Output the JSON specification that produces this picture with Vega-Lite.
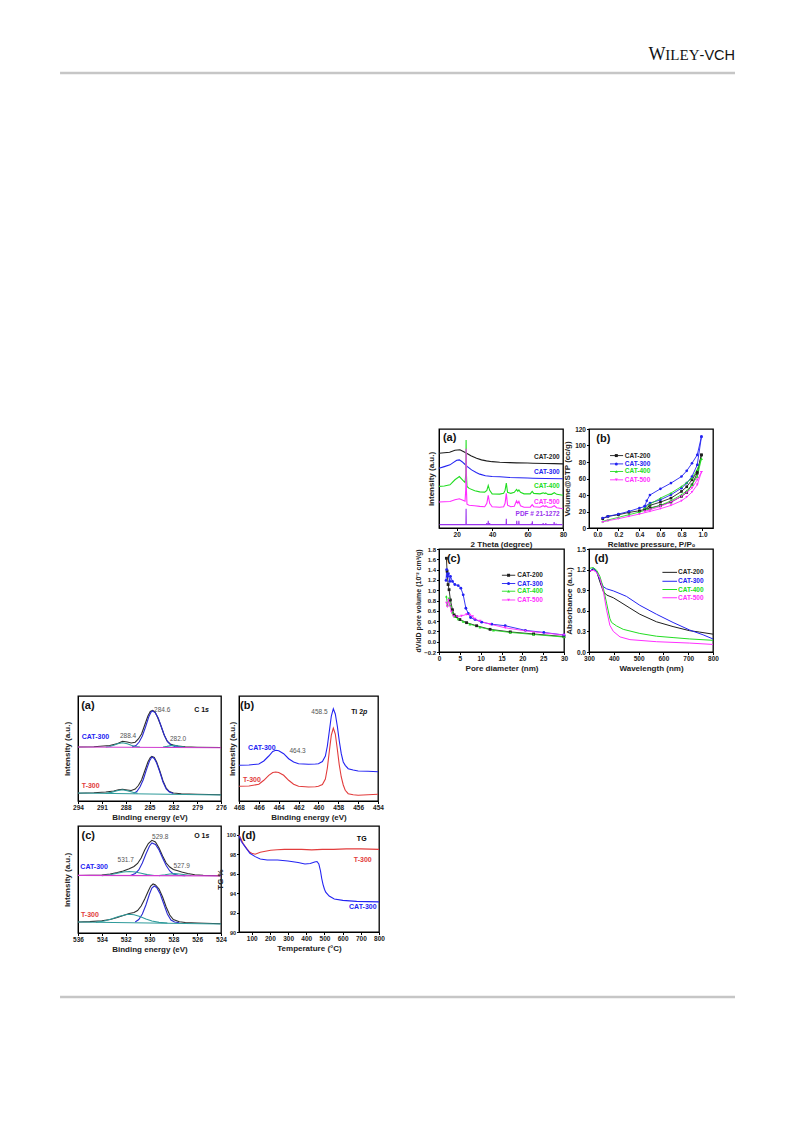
{
  "$schema": "https://vega.github.io/schema/vega-lite/v6.json",
  "padding": 0,
  "background": "white",
  "columns": 5,
  "spacing": 0,
  "bounds": "flush",
  "align": "each",
  "config": {
    "view": {"stroke": null},
    "font": "Liberation Sans",
    "axis": {"grid": false, "labelFont": "Liberation Sans", "labelFontSize": 6.5, "labelFontWeight": "bold", "labelColor": "#222", "titleFont": "Liberation Sans", "titleFontSize": 8, "titleFontWeight": "bold", "titleColor": "#222", "tickSize": 2.5, "tickColor": "#000", "domainColor": "#000", "domainWidth": 1, "labelPadding": 1, "titlePadding": 2, "labelFlush": false, "labelOverlap": false},
    "text": {"font": "Liberation Sans"}
  },
  "datasets": {
    "xrd": [
      {"s":"CAT-200","x":10,"y":75.5},{"s":"CAT-200","x":13,"y":76},{"s":"CAT-200","x":16,"y":76.5},{"s":"CAT-200","x":19,"y":78.5},{"s":"CAT-200","x":21.8,"y":79},{"s":"CAT-200","x":24,"y":77},{"s":"CAT-200","x":25.6,"y":75.5},{"s":"CAT-200","x":28,"y":73},{"s":"CAT-200","x":31.2,"y":70.5},{"s":"CAT-200","x":34,"y":68.8},{"s":"CAT-200","x":36.8,"y":67.8},{"s":"CAT-200","x":40,"y":67},{"s":"CAT-200","x":44.3,"y":66.4},{"s":"CAT-200","x":50,"y":66},{"s":"CAT-200","x":53.7,"y":65.8},{"s":"CAT-200","x":60,"y":65.6},{"s":"CAT-200","x":63,"y":65.4},{"s":"CAT-200","x":70,"y":65.1},{"s":"CAT-200","x":75,"y":65},{"s":"CAT-200","x":80,"y":64.8},
      {"s":"CAT-300","x":10,"y":60.4},{"s":"CAT-300","x":13,"y":62},{"s":"CAT-300","x":16.2,"y":63.8},{"s":"CAT-300","x":18,"y":66},{"s":"CAT-300","x":20,"y":68.5},{"s":"CAT-300","x":21.5,"y":68.8},{"s":"CAT-300","x":23,"y":67},{"s":"CAT-300","x":24.6,"y":64.4},{"s":"CAT-300","x":26,"y":62},{"s":"CAT-300","x":28.4,"y":58.7},{"s":"CAT-300","x":31,"y":56},{"s":"CAT-300","x":33,"y":54.4},{"s":"CAT-300","x":36.2,"y":52.7},{"s":"CAT-300","x":40,"y":52},{"s":"CAT-300","x":44.3,"y":51.7},{"s":"CAT-300","x":50,"y":51},{"s":"CAT-300","x":60,"y":50.5},{"s":"CAT-300","x":63,"y":50.3},{"s":"CAT-300","x":70,"y":50},{"s":"CAT-300","x":80,"y":49.7},
      {"s":"CAT-400","x":10,"y":42},{"s":"CAT-400","x":13,"y":42.5},{"s":"CAT-400","x":16.2,"y":43.6},{"s":"CAT-400","x":19,"y":48.7},{"s":"CAT-400","x":21.5,"y":52},{"s":"CAT-400","x":23.5,"y":48},{"s":"CAT-400","x":24.7,"y":46},{"s":"CAT-400","x":25.15,"y":55},{"s":"CAT-400","x":25.3,"y":89},{"s":"CAT-400","x":25.45,"y":55},{"s":"CAT-400","x":25.8,"y":42},{"s":"CAT-400","x":27,"y":40},{"s":"CAT-400","x":30.2,"y":37.6},{"s":"CAT-400","x":33,"y":36.5},{"s":"CAT-400","x":35.8,"y":36.2},{"s":"CAT-400","x":37,"y":38},{"s":"CAT-400","x":37.8,"y":43},{"s":"CAT-400","x":38.6,"y":38},{"s":"CAT-400","x":40,"y":34.5},{"s":"CAT-400","x":44.3,"y":34.2},{"s":"CAT-400","x":46.5,"y":35},{"s":"CAT-400","x":47.3,"y":38},{"s":"CAT-400","x":48,"y":45.3},{"s":"CAT-400","x":48.7,"y":36},{"s":"CAT-400","x":50.5,"y":35},{"s":"CAT-400","x":52.5,"y":36},{"s":"CAT-400","x":53.8,"y":39},{"s":"CAT-400","x":54.5,"y":37},{"s":"CAT-400","x":55.1,"y":38.5},{"s":"CAT-400","x":56,"y":36},{"s":"CAT-400","x":58,"y":34.5},{"s":"CAT-400","x":61.5,"y":34.5},{"s":"CAT-400","x":62.6,"y":37},{"s":"CAT-400","x":63.5,"y":35},{"s":"CAT-400","x":67,"y":34.5},{"s":"CAT-400","x":68.8,"y":35.5},{"s":"CAT-400","x":69.8,"y":34.8},{"s":"CAT-400","x":70.3,"y":35.5},{"s":"CAT-400","x":71.5,"y":34},{"s":"CAT-400","x":73.5,"y":34},{"s":"CAT-400","x":75.1,"y":35.6},{"s":"CAT-400","x":76.5,"y":34},{"s":"CAT-400","x":80,"y":33},
      {"s":"CAT-500","x":10,"y":26.2},{"s":"CAT-500","x":13,"y":26.5},{"s":"CAT-500","x":16.2,"y":26.8},{"s":"CAT-500","x":19,"y":28.5},{"s":"CAT-500","x":21.5,"y":29.5},{"s":"CAT-500","x":23.5,"y":28},{"s":"CAT-500","x":24.7,"y":27},{"s":"CAT-500","x":25.15,"y":40},{"s":"CAT-500","x":25.3,"y":80},{"s":"CAT-500","x":25.45,"y":40},{"s":"CAT-500","x":25.8,"y":24},{"s":"CAT-500","x":27,"y":23},{"s":"CAT-500","x":30,"y":22.5},{"s":"CAT-500","x":33,"y":21.8},{"s":"CAT-500","x":35.8,"y":21.5},{"s":"CAT-500","x":37,"y":25},{"s":"CAT-500","x":37.8,"y":32.9},{"s":"CAT-500","x":38.6,"y":25},{"s":"CAT-500","x":40,"y":21.5},{"s":"CAT-500","x":44.3,"y":21},{"s":"CAT-500","x":46.5,"y":21.5},{"s":"CAT-500","x":47.3,"y":25},{"s":"CAT-500","x":48,"y":35},{"s":"CAT-500","x":48.7,"y":23},{"s":"CAT-500","x":50.5,"y":21.5},{"s":"CAT-500","x":52.5,"y":22},{"s":"CAT-500","x":53.8,"y":27.5},{"s":"CAT-500","x":54.5,"y":25},{"s":"CAT-500","x":55.1,"y":27},{"s":"CAT-500","x":56,"y":22.5},{"s":"CAT-500","x":58,"y":21},{"s":"CAT-500","x":61.5,"y":21},{"s":"CAT-500","x":62.6,"y":23.5},{"s":"CAT-500","x":63.5,"y":21.5},{"s":"CAT-500","x":67,"y":21},{"s":"CAT-500","x":68.8,"y":22.5},{"s":"CAT-500","x":69.8,"y":21.5},{"s":"CAT-500","x":70.3,"y":22.5},{"s":"CAT-500","x":71.5,"y":21},{"s":"CAT-500","x":73.5,"y":21},{"s":"CAT-500","x":75.1,"y":22.5},{"s":"CAT-500","x":76.5,"y":20.5},{"s":"CAT-500","x":80,"y":19.5},
      {"s":"PDF","x":10.3,"y":3.4},{"s":"PDF","x":25.2,"y":3.4},{"s":"PDF","x":25.3,"y":19.5},{"s":"PDF","x":25.4,"y":3.4},{"s":"PDF","x":36.8,"y":3.4},{"s":"PDF","x":36.95,"y":5},{"s":"PDF","x":37.05,"y":3.4},{"s":"PDF","x":37.7,"y":3.4},{"s":"PDF","x":37.8,"y":7.4},{"s":"PDF","x":37.9,"y":3.4},{"s":"PDF","x":38.5,"y":3.4},{"s":"PDF","x":38.6,"y":5},{"s":"PDF","x":38.7,"y":3.4},{"s":"PDF","x":47.9,"y":3.4},{"s":"PDF","x":48,"y":9.4},{"s":"PDF","x":48.1,"y":3.4},{"s":"PDF","x":53.8,"y":3.4},{"s":"PDF","x":53.9,"y":7.4},{"s":"PDF","x":54,"y":3.4},{"s":"PDF","x":55,"y":3.4},{"s":"PDF","x":55.1,"y":7.4},{"s":"PDF","x":55.2,"y":3.4},{"s":"PDF","x":62,"y":3.4},{"s":"PDF","x":62.1,"y":4.5},{"s":"PDF","x":62.2,"y":3.4},{"s":"PDF","x":62.6,"y":3.4},{"s":"PDF","x":62.7,"y":6.7},{"s":"PDF","x":62.8,"y":3.4},{"s":"PDF","x":68.7,"y":3.4},{"s":"PDF","x":68.8,"y":5},{"s":"PDF","x":68.9,"y":3.4},{"s":"PDF","x":70.2,"y":3.4},{"s":"PDF","x":70.3,"y":5},{"s":"PDF","x":70.4,"y":3.4},{"s":"PDF","x":74.9,"y":3.4},{"s":"PDF","x":75,"y":6},{"s":"PDF","x":75.1,"y":3.4},{"s":"PDF","x":76,"y":3.4},{"s":"PDF","x":76.1,"y":4.5},{"s":"PDF","x":76.2,"y":3.4},{"s":"PDF","x":79.7,"y":3.4}
    ],
    "bet": [
      {"s":"CAT-200","b":"a","p":0.05,"v":11.3},{"s":"CAT-200","b":"a","p":0.1,"v":14.1},{"s":"CAT-200","b":"a","p":0.2,"v":16.1},{"s":"CAT-200","b":"a","p":0.3,"v":18.9},{"s":"CAT-200","b":"a","p":0.4,"v":20.9},{"s":"CAT-200","b":"a","p":0.5,"v":24.2},{"s":"CAT-200","b":"a","p":0.6,"v":27.4},{"s":"CAT-200","b":"a","p":0.7,"v":31.4},{"s":"CAT-200","b":"a","p":0.8,"v":38.3},{"s":"CAT-200","b":"a","p":0.85,"v":43},{"s":"CAT-200","b":"a","p":0.9,"v":52.4},{"s":"CAT-200","b":"a","p":0.95,"v":66.4},{"s":"CAT-200","b":"a","p":0.99,"v":88.6},
      {"s":"CAT-200","b":"d","p":0.45,"v":22.5},{"s":"CAT-200","b":"d","p":0.5,"v":27.4},{"s":"CAT-200","b":"d","p":0.6,"v":31.4},{"s":"CAT-200","b":"d","p":0.7,"v":36.2},{"s":"CAT-200","b":"d","p":0.8,"v":44.3},{"s":"CAT-200","b":"d","p":0.85,"v":50},{"s":"CAT-200","b":"d","p":0.9,"v":58.4},{"s":"CAT-200","b":"d","p":0.95,"v":68.5},{"s":"CAT-200","b":"d","p":0.99,"v":88.6},
      {"s":"CAT-300","b":"a","p":0.05,"v":12.1},{"s":"CAT-300","b":"a","p":0.1,"v":14.1},{"s":"CAT-300","b":"a","p":0.2,"v":16.9},{"s":"CAT-300","b":"a","p":0.3,"v":20.1},{"s":"CAT-300","b":"a","p":0.4,"v":24.2},{"s":"CAT-300","b":"a","p":0.45,"v":26},{"s":"CAT-300","b":"a","p":0.5,"v":30.2},{"s":"CAT-300","b":"a","p":0.6,"v":34.2},{"s":"CAT-300","b":"a","p":0.7,"v":40.3},{"s":"CAT-300","b":"a","p":0.8,"v":48.3},{"s":"CAT-300","b":"a","p":0.85,"v":54.4},{"s":"CAT-300","b":"a","p":0.9,"v":62.4},{"s":"CAT-300","b":"a","p":0.95,"v":76.5},{"s":"CAT-300","b":"a","p":0.99,"v":110.7},
      {"s":"CAT-300","b":"d","p":0.45,"v":26.5},{"s":"CAT-300","b":"d","p":0.47,"v":33},{"s":"CAT-300","b":"d","p":0.5,"v":40},{"s":"CAT-300","b":"d","p":0.6,"v":47.5},{"s":"CAT-300","b":"d","p":0.7,"v":54.4},{"s":"CAT-300","b":"d","p":0.8,"v":62.4},{"s":"CAT-300","b":"d","p":0.85,"v":69.3},{"s":"CAT-300","b":"d","p":0.9,"v":78.5},{"s":"CAT-300","b":"d","p":0.95,"v":88.6},{"s":"CAT-300","b":"d","p":0.99,"v":110.7},
      {"s":"CAT-400","b":"a","p":0.05,"v":8.1},{"s":"CAT-400","b":"a","p":0.1,"v":9.7},{"s":"CAT-400","b":"a","p":0.2,"v":12.9},{"s":"CAT-400","b":"a","p":0.3,"v":16.1},{"s":"CAT-400","b":"a","p":0.4,"v":19.3},{"s":"CAT-400","b":"a","p":0.5,"v":23.4},{"s":"CAT-400","b":"a","p":0.6,"v":27.4},{"s":"CAT-400","b":"a","p":0.7,"v":33},{"s":"CAT-400","b":"a","p":0.8,"v":40.3},{"s":"CAT-400","b":"a","p":0.85,"v":45},{"s":"CAT-400","b":"a","p":0.9,"v":52.4},{"s":"CAT-400","b":"a","p":0.95,"v":62.4},{"s":"CAT-400","b":"a","p":0.99,"v":84},
      {"s":"CAT-400","b":"d","p":0.45,"v":24.2},{"s":"CAT-400","b":"d","p":0.5,"v":29},{"s":"CAT-400","b":"d","p":0.6,"v":36.2},{"s":"CAT-400","b":"d","p":0.7,"v":42.3},{"s":"CAT-400","b":"d","p":0.8,"v":50.3},{"s":"CAT-400","b":"d","p":0.85,"v":55},{"s":"CAT-400","b":"d","p":0.9,"v":60.4},{"s":"CAT-400","b":"d","p":0.95,"v":70.5},{"s":"CAT-400","b":"d","p":0.99,"v":84},
      {"s":"CAT-500","b":"a","p":0.05,"v":7.2},{"s":"CAT-500","b":"a","p":0.1,"v":8.9},{"s":"CAT-500","b":"a","p":0.2,"v":11.3},{"s":"CAT-500","b":"a","p":0.3,"v":14.1},{"s":"CAT-500","b":"a","p":0.4,"v":16.9},{"s":"CAT-500","b":"a","p":0.5,"v":20.1},{"s":"CAT-500","b":"a","p":0.6,"v":23.4},{"s":"CAT-500","b":"a","p":0.7,"v":27.4},{"s":"CAT-500","b":"a","p":0.8,"v":33},{"s":"CAT-500","b":"a","p":0.85,"v":37.5},{"s":"CAT-500","b":"a","p":0.9,"v":43.5},{"s":"CAT-500","b":"a","p":0.95,"v":52.4},{"s":"CAT-500","b":"a","p":0.99,"v":67.7},
      {"s":"CAT-500","b":"d","p":0.45,"v":20.1},{"s":"CAT-500","b":"d","p":0.5,"v":22.1},{"s":"CAT-500","b":"d","p":0.6,"v":26.2},{"s":"CAT-500","b":"d","p":0.7,"v":31.4},{"s":"CAT-500","b":"d","p":0.8,"v":38.3},{"s":"CAT-500","b":"d","p":0.85,"v":43},{"s":"CAT-500","b":"d","p":0.9,"v":48.3},{"s":"CAT-500","b":"d","p":0.95,"v":58.4},{"s":"CAT-500","b":"d","p":0.99,"v":67.7}
    ],
    "pore": [
      {"s":"CAT-200","d":1.77,"v":1.62},{"s":"CAT-200","d":1.94,"v":1.37},{"s":"CAT-200","d":2.18,"v":1.11},{"s":"CAT-200","d":2.42,"v":1.01},{"s":"CAT-200","d":2.74,"v":0.81},{"s":"CAT-200","d":3.23,"v":0.62},{"s":"CAT-200","d":3.63,"v":0.52},{"s":"CAT-200","d":4.19,"v":0.49},{"s":"CAT-200","d":5.0,"v":0.43},{"s":"CAT-200","d":6.61,"v":0.37},{"s":"CAT-200","d":9.03,"v":0.31},{"s":"CAT-200","d":12.26,"v":0.24},{"s":"CAT-200","d":17.1,"v":0.19},{"s":"CAT-200","d":22.7,"v":0.15},{"s":"CAT-200","d":30,"v":0.1},
      {"s":"CAT-300","d":1.69,"v":1.19},{"s":"CAT-300","d":1.85,"v":1.4},{"s":"CAT-300","d":2.02,"v":1.27},{"s":"CAT-300","d":2.26,"v":1.32},{"s":"CAT-300","d":2.58,"v":1.17},{"s":"CAT-300","d":2.74,"v":1.27},{"s":"CAT-300","d":3.23,"v":1.17},{"s":"CAT-300","d":3.79,"v":1.11},{"s":"CAT-300","d":4.6,"v":1.09},{"s":"CAT-300","d":5.24,"v":1.04},{"s":"CAT-300","d":5.81,"v":0.91},{"s":"CAT-300","d":6.45,"v":0.65},{"s":"CAT-300","d":7.02,"v":0.55},{"s":"CAT-300","d":7.58,"v":0.47},{"s":"CAT-300","d":8.63,"v":0.43},{"s":"CAT-300","d":10.24,"v":0.38},{"s":"CAT-300","d":12.66,"v":0.34},{"s":"CAT-300","d":15.89,"v":0.31},{"s":"CAT-300","d":20.73,"v":0.22},{"s":"CAT-300","d":25.16,"v":0.18},{"s":"CAT-300","d":30,"v":0.13},
      {"s":"CAT-400","d":1.77,"v":0.88},{"s":"CAT-400","d":2.02,"v":0.71},{"s":"CAT-400","d":2.42,"v":0.85},{"s":"CAT-400","d":2.74,"v":0.71},{"s":"CAT-400","d":3.23,"v":0.57},{"s":"CAT-400","d":3.79,"v":0.49},{"s":"CAT-400","d":4.6,"v":0.44},{"s":"CAT-400","d":5.81,"v":0.39},{"s":"CAT-400","d":7.42,"v":0.34},{"s":"CAT-400","d":9.84,"v":0.28},{"s":"CAT-400","d":13.07,"v":0.22},{"s":"CAT-400","d":17.1,"v":0.18},{"s":"CAT-400","d":22.7,"v":0.14},{"s":"CAT-400","d":30,"v":0.09},
      {"s":"CAT-500","d":1.77,"v":0.75},{"s":"CAT-500","d":2.02,"v":0.68},{"s":"CAT-500","d":2.26,"v":0.81},{"s":"CAT-500","d":2.58,"v":0.71},{"s":"CAT-500","d":2.98,"v":0.58},{"s":"CAT-500","d":3.55,"v":0.49},{"s":"CAT-500","d":4.35,"v":0.49},{"s":"CAT-500","d":5.4,"v":0.5},{"s":"CAT-500","d":6.61,"v":0.53},{"s":"CAT-500","d":7.42,"v":0.52},{"s":"CAT-500","d":8.07,"v":0.49},{"s":"CAT-500","d":8.63,"v":0.44},{"s":"CAT-500","d":9.84,"v":0.4},{"s":"CAT-500","d":12.26,"v":0.34},{"s":"CAT-500","d":15.89,"v":0.27},{"s":"CAT-500","d":20.73,"v":0.21},{"s":"CAT-500","d":30,"v":0.13}
    ],
    "abs": [
      {"s":"CAT-200","w":304,"a":1.17},{"s":"CAT-200","w":317,"a":1.21},{"s":"CAT-200","w":331,"a":1.17},{"s":"CAT-200","w":344,"a":1.02},{"s":"CAT-200","w":358,"a":0.88},{"s":"CAT-200","w":371,"a":0.83},{"s":"CAT-200","w":398,"a":0.79},{"s":"CAT-200","w":425,"a":0.73},{"s":"CAT-200","w":465,"a":0.64},{"s":"CAT-200","w":505,"a":0.55},{"s":"CAT-200","w":572,"a":0.44},{"s":"CAT-200","w":639,"a":0.37},{"s":"CAT-200","w":706,"a":0.31},{"s":"CAT-200","w":746,"a":0.29},{"s":"CAT-200","w":800,"a":0.26},
      {"s":"CAT-300","w":304,"a":1.18},{"s":"CAT-300","w":317,"a":1.22},{"s":"CAT-300","w":331,"a":1.17},{"s":"CAT-300","w":344,"a":1.05},{"s":"CAT-300","w":358,"a":0.95},{"s":"CAT-300","w":371,"a":0.92},{"s":"CAT-300","w":398,"a":0.89},{"s":"CAT-300","w":425,"a":0.85},{"s":"CAT-300","w":451,"a":0.81},{"s":"CAT-300","w":505,"a":0.68},{"s":"CAT-300","w":572,"a":0.55},{"s":"CAT-300","w":639,"a":0.43},{"s":"CAT-300","w":706,"a":0.32},{"s":"CAT-300","w":760,"a":0.25},{"s":"CAT-300","w":800,"a":0.19},
      {"s":"CAT-400","w":304,"a":1.22},{"s":"CAT-400","w":317,"a":1.23},{"s":"CAT-400","w":331,"a":1.19},{"s":"CAT-400","w":344,"a":1.1},{"s":"CAT-400","w":358,"a":0.93},{"s":"CAT-400","w":371,"a":0.71},{"s":"CAT-400","w":384,"a":0.49},{"s":"CAT-400","w":391,"a":0.43},{"s":"CAT-400","w":411,"a":0.38},{"s":"CAT-400","w":438,"a":0.33},{"s":"CAT-400","w":505,"a":0.27},{"s":"CAT-400","w":572,"a":0.23},{"s":"CAT-400","w":639,"a":0.21},{"s":"CAT-400","w":706,"a":0.19},{"s":"CAT-400","w":800,"a":0.17},
      {"s":"CAT-500","w":304,"a":1.18},{"s":"CAT-500","w":317,"a":1.19},{"s":"CAT-500","w":331,"a":1.16},{"s":"CAT-500","w":344,"a":1.07},{"s":"CAT-500","w":358,"a":0.88},{"s":"CAT-500","w":371,"a":0.61},{"s":"CAT-500","w":384,"a":0.39},{"s":"CAT-500","w":398,"a":0.3},{"s":"CAT-500","w":425,"a":0.22},{"s":"CAT-500","w":465,"a":0.18},{"s":"CAT-500","w":572,"a":0.15},{"s":"CAT-500","w":706,"a":0.13},{"s":"CAT-500","w":800,"a":0.11}
    ],
    "c1s": [
      {"g":"ce","s":"env","x":294,"y":54},{"g":"ce","s":"env","x":292,"y":54.3},{"g":"ce","s":"env","x":290,"y":55.5},{"g":"ce","s":"env","x":289,"y":57.5},{"g":"ce","s":"env","x":288.4,"y":59.7},{"g":"ce","s":"env","x":287.8,"y":59},{"g":"ce","s":"env","x":287.3,"y":58},{"g":"ce","s":"env","x":286.8,"y":58.8},{"g":"ce","s":"env","x":286.4,"y":62},{"g":"ce","s":"env","x":286,"y":67},{"g":"ce","s":"env","x":285.6,"y":76},{"g":"ce","s":"env","x":285.2,"y":85},{"g":"ce","s":"env","x":284.9,"y":89.5},{"g":"ce","s":"env","x":284.6,"y":90.7},{"g":"ce","s":"env","x":284.3,"y":89},{"g":"ce","s":"env","x":284,"y":84},{"g":"ce","s":"env","x":283.6,"y":76},{"g":"ce","s":"env","x":283.2,"y":67},{"g":"ce","s":"env","x":282.8,"y":60},{"g":"ce","s":"env","x":282.4,"y":57},{"g":"ce","s":"env","x":282,"y":56},{"g":"ce","s":"env","x":281.4,"y":55},{"g":"ce","s":"env","x":280.5,"y":54.2},{"g":"ce","s":"env","x":279,"y":53.8},{"g":"ce","s":"env","x":276,"y":53.5},
      {"g":"cf","s":"fit","x":287.2,"y":54},{"g":"cf","s":"fit","x":286.7,"y":55.5},{"g":"cf","s":"fit","x":286.3,"y":59},{"g":"cf","s":"fit","x":285.9,"y":65},{"g":"cf","s":"fit","x":285.5,"y":74},{"g":"cf","s":"fit","x":285.1,"y":84},{"g":"cf","s":"fit","x":284.8,"y":89},{"g":"cf","s":"fit","x":284.6,"y":90},{"g":"cf","s":"fit","x":284.3,"y":88.5},{"g":"cf","s":"fit","x":283.9,"y":83},{"g":"cf","s":"fit","x":283.5,"y":74},{"g":"cf","s":"fit","x":283.1,"y":65},{"g":"cf","s":"fit","x":282.7,"y":59},{"g":"cf","s":"fit","x":282.3,"y":56},{"g":"cf","s":"fit","x":281.8,"y":54.5},{"g":"cf","s":"fit","x":281,"y":54},
      {"g":"cc1","s":"comp","x":290.5,"y":54},{"g":"cc1","s":"comp","x":290,"y":54.5},{"g":"cc1","s":"comp","x":289.5,"y":55.7},{"g":"cc1","s":"comp","x":289,"y":57.3},{"g":"cc1","s":"comp","x":288.4,"y":58.3},{"g":"cc1","s":"comp","x":287.8,"y":57.3},{"g":"cc1","s":"comp","x":287.3,"y":55.7},{"g":"cc1","s":"comp","x":286.8,"y":54.5},{"g":"cc1","s":"comp","x":286.2,"y":54},
      {"g":"cc2","s":"comp","x":283.3,"y":54},{"g":"cc2","s":"comp","x":282.8,"y":54.6},{"g":"cc2","s":"comp","x":282.3,"y":55.4},{"g":"cc2","s":"comp","x":282,"y":55.6},{"g":"cc2","s":"comp","x":281.6,"y":55.3},{"g":"cc2","s":"comp","x":281.1,"y":54.5},{"g":"cc2","s":"comp","x":280.6,"y":54},
      {"g":"cb","s":"base","x":294,"y":54},{"g":"cb","s":"base","x":276,"y":53.3},
      {"g":"te","s":"env","x":294,"y":7.8},{"g":"te","s":"env","x":292,"y":8.3},{"g":"te","s":"env","x":290.5,"y":9},{"g":"te","s":"env","x":289.5,"y":10},{"g":"te","s":"env","x":288.9,"y":11.3},{"g":"te","s":"env","x":288.4,"y":11.7},{"g":"te","s":"env","x":287.8,"y":11},{"g":"te","s":"env","x":287.3,"y":10.5},{"g":"te","s":"env","x":286.8,"y":12},{"g":"te","s":"env","x":286.4,"y":15.5},{"g":"te","s":"env","x":286,"y":21},{"g":"te","s":"env","x":285.6,"y":30},{"g":"te","s":"env","x":285.2,"y":39},{"g":"te","s":"env","x":284.9,"y":43.5},{"g":"te","s":"env","x":284.7,"y":44.7},{"g":"te","s":"env","x":284.4,"y":43.5},{"g":"te","s":"env","x":284.1,"y":39},{"g":"te","s":"env","x":283.7,"y":30},{"g":"te","s":"env","x":283.3,"y":20},{"g":"te","s":"env","x":282.9,"y":13},{"g":"te","s":"env","x":282.5,"y":9.5},{"g":"te","s":"env","x":282,"y":8},{"g":"te","s":"env","x":281,"y":7.2},{"g":"te","s":"env","x":279,"y":6.8},{"g":"te","s":"env","x":276,"y":6.3},
      {"g":"tf","s":"fit","x":287,"y":7.6},{"g":"tf","s":"fit","x":286.6,"y":9.5},{"g":"tf","s":"fit","x":286.2,"y":14},{"g":"tf","s":"fit","x":285.8,"y":21},{"g":"tf","s":"fit","x":285.4,"y":31},{"g":"tf","s":"fit","x":285,"y":40},{"g":"tf","s":"fit","x":284.7,"y":44},{"g":"tf","s":"fit","x":284.4,"y":42.5},{"g":"tf","s":"fit","x":284.1,"y":38},{"g":"tf","s":"fit","x":283.7,"y":29},{"g":"tf","s":"fit","x":283.3,"y":19},{"g":"tf","s":"fit","x":282.9,"y":12},{"g":"tf","s":"fit","x":282.5,"y":9},{"g":"tf","s":"fit","x":282,"y":7.6},
      {"g":"tc1","s":"comp","x":290.5,"y":7.8},{"g":"tc1","s":"comp","x":289.8,"y":8.6},{"g":"tc1","s":"comp","x":289.1,"y":10.3},{"g":"tc1","s":"comp","x":288.4,"y":11.3},{"g":"tc1","s":"comp","x":287.8,"y":10.3},{"g":"tc1","s":"comp","x":287.1,"y":8.7},{"g":"tc1","s":"comp","x":286.5,"y":7.8},
      {"g":"tb","s":"comp","x":294,"y":8},{"g":"tb","s":"comp","x":276,"y":6}
    ],
    "ti": [
      {"s":"CAT-300","x":468,"y":35.7},{"s":"CAT-300","x":467,"y":36},{"s":"CAT-300","x":466,"y":37},{"s":"CAT-300","x":465.5,"y":40},{"s":"CAT-300","x":465,"y":45},{"s":"CAT-300","x":464.6,"y":49.5},{"s":"CAT-300","x":464.3,"y":50.7},{"s":"CAT-300","x":464,"y":50.2},{"s":"CAT-300","x":463.5,"y":47.3},{"s":"CAT-300","x":463,"y":42.3},{"s":"CAT-300","x":462.5,"y":39},{"s":"CAT-300","x":462,"y":37.3},{"s":"CAT-300","x":461,"y":36.7},{"s":"CAT-300","x":460.3,"y":37},{"s":"CAT-300","x":460,"y":37.3},{"s":"CAT-300","x":459.6,"y":39.5},{"s":"CAT-300","x":459.3,"y":45},{"s":"CAT-300","x":459.1,"y":55},{"s":"CAT-300","x":458.9,"y":70},{"s":"CAT-300","x":458.7,"y":85},{"s":"CAT-300","x":458.5,"y":92.3},{"s":"CAT-300","x":458.3,"y":87},{"s":"CAT-300","x":458.1,"y":75},{"s":"CAT-300","x":457.9,"y":60},{"s":"CAT-300","x":457.7,"y":47.3},{"s":"CAT-300","x":457.5,"y":39},{"s":"CAT-300","x":457.3,"y":35.7},{"s":"CAT-300","x":457,"y":32.3},{"s":"CAT-300","x":456.5,"y":31},{"s":"CAT-300","x":456,"y":30},{"s":"CAT-300","x":455,"y":29.7},{"s":"CAT-300","x":454,"y":29.3},
      {"s":"T-300","x":468,"y":14.7},{"s":"T-300","x":467,"y":15},{"s":"T-300","x":466,"y":16.7},{"s":"T-300","x":465.5,"y":20.7},{"s":"T-300","x":465,"y":25.7},{"s":"T-300","x":464.6,"y":28.5},{"s":"T-300","x":464.3,"y":29},{"s":"T-300","x":464,"y":28.5},{"s":"T-300","x":463.5,"y":25.7},{"s":"T-300","x":463,"y":20.7},{"s":"T-300","x":462.5,"y":16.7},{"s":"T-300","x":462,"y":14.7},{"s":"T-300","x":461,"y":14},{"s":"T-300","x":460.3,"y":14.3},{"s":"T-300","x":460,"y":14.7},{"s":"T-300","x":459.6,"y":16.5},{"s":"T-300","x":459.3,"y":22},{"s":"T-300","x":459.1,"y":33},{"s":"T-300","x":458.9,"y":50},{"s":"T-300","x":458.7,"y":66},{"s":"T-300","x":458.5,"y":73},{"s":"T-300","x":458.3,"y":67},{"s":"T-300","x":458.1,"y":52},{"s":"T-300","x":457.9,"y":36},{"s":"T-300","x":457.7,"y":24},{"s":"T-300","x":457.5,"y":16},{"s":"T-300","x":457.3,"y":10.7},{"s":"T-300","x":457,"y":7.3},{"s":"T-300","x":456.5,"y":6.2},{"s":"T-300","x":456,"y":5.7},{"s":"T-300","x":455,"y":6.3},{"s":"T-300","x":454,"y":6.7}
    ],
    "o1s": [
      {"g":"ce","s":"env","x":536,"y":57.5},{"g":"ce","s":"env","x":535,"y":57.7},{"g":"ce","s":"env","x":534,"y":58},{"g":"ce","s":"env","x":533.3,"y":59},{"g":"ce","s":"env","x":532.7,"y":60.5},{"g":"ce","s":"env","x":532.2,"y":62},{"g":"ce","s":"env","x":531.7,"y":64.3},{"g":"ce","s":"env","x":531.3,"y":66.5},{"g":"ce","s":"env","x":531,"y":69.5},{"g":"ce","s":"env","x":530.7,"y":75},{"g":"ce","s":"env","x":530.4,"y":83},{"g":"ce","s":"env","x":530.1,"y":89.5},{"g":"ce","s":"env","x":529.8,"y":92.7},{"g":"ce","s":"env","x":529.5,"y":91},{"g":"ce","s":"env","x":529.2,"y":85},{"g":"ce","s":"env","x":528.9,"y":77},{"g":"ce","s":"env","x":528.6,"y":70},{"g":"ce","s":"env","x":528.3,"y":66},{"g":"ce","s":"env","x":528,"y":63.5},{"g":"ce","s":"env","x":527.7,"y":62.5},{"g":"ce","s":"env","x":527.3,"y":61},{"g":"ce","s":"env","x":526.8,"y":59.5},{"g":"ce","s":"env","x":526.2,"y":58.2},{"g":"ce","s":"env","x":525.5,"y":57.6},{"g":"ce","s":"env","x":524,"y":57.3},
      {"g":"cf","s":"fit","x":531.6,"y":57.6},{"g":"cf","s":"fit","x":531.2,"y":59.5},{"g":"cf","s":"fit","x":530.9,"y":63},{"g":"cf","s":"fit","x":530.6,"y":70},{"g":"cf","s":"fit","x":530.3,"y":79},{"g":"cf","s":"fit","x":530,"y":87},{"g":"cf","s":"fit","x":529.8,"y":90},{"g":"cf","s":"fit","x":529.5,"y":88.5},{"g":"cf","s":"fit","x":529.2,"y":83},{"g":"cf","s":"fit","x":528.9,"y":75},{"g":"cf","s":"fit","x":528.6,"y":67.5},{"g":"cf","s":"fit","x":528.3,"y":62},{"g":"cf","s":"fit","x":528,"y":59},{"g":"cf","s":"fit","x":527.6,"y":57.8},{"g":"cf","s":"fit","x":527,"y":57.3},
      {"g":"cc1","s":"comp","x":534,"y":57.4},{"g":"cc1","s":"comp","x":533.3,"y":58.3},{"g":"cc1","s":"comp","x":532.7,"y":59.8},{"g":"cc1","s":"comp","x":532.2,"y":61},{"g":"cc1","s":"comp","x":531.7,"y":61.5},{"g":"cc1","s":"comp","x":531.2,"y":61},{"g":"cc1","s":"comp","x":530.7,"y":59.8},{"g":"cc1","s":"comp","x":530.2,"y":58.4},{"g":"cc1","s":"comp","x":529.6,"y":57.5},
      {"g":"cc2","s":"comp","x":529.2,"y":57.4},{"g":"cc2","s":"comp","x":528.7,"y":58.2},{"g":"cc2","s":"comp","x":528.3,"y":59},{"g":"cc2","s":"comp","x":527.9,"y":59.4},{"g":"cc2","s":"comp","x":527.5,"y":59},{"g":"cc2","s":"comp","x":527,"y":58.2},{"g":"cc2","s":"comp","x":526.5,"y":57.5},
      {"g":"cb","s":"base","x":536,"y":57.6},{"g":"cb","s":"base","x":524,"y":57.1},
      {"g":"te","s":"env","x":536,"y":11},{"g":"te","s":"env","x":535,"y":11.4},{"g":"te","s":"env","x":534,"y":12.2},{"g":"te","s":"env","x":533.3,"y":13.5},{"g":"te","s":"env","x":532.7,"y":15.5},{"g":"te","s":"env","x":532.2,"y":17.5},{"g":"te","s":"env","x":531.7,"y":19.5},{"g":"te","s":"env","x":531.3,"y":20.5},{"g":"te","s":"env","x":531,"y":22.5},{"g":"te","s":"env","x":530.7,"y":27},{"g":"te","s":"env","x":530.4,"y":34},{"g":"te","s":"env","x":530.1,"y":42},{"g":"te","s":"env","x":529.9,"y":47},{"g":"te","s":"env","x":529.7,"y":49},{"g":"te","s":"env","x":529.5,"y":48},{"g":"te","s":"env","x":529.2,"y":44},{"g":"te","s":"env","x":528.9,"y":36},{"g":"te","s":"env","x":528.6,"y":26},{"g":"te","s":"env","x":528.3,"y":18},{"g":"te","s":"env","x":528,"y":13.5},{"g":"te","s":"env","x":527.5,"y":11.3},{"g":"te","s":"env","x":527,"y":10.5},{"g":"te","s":"env","x":526,"y":10},{"g":"te","s":"env","x":524,"y":9.3},
      {"g":"tf","s":"fit","x":531.2,"y":11},{"g":"tf","s":"fit","x":530.9,"y":13.5},{"g":"tf","s":"fit","x":530.6,"y":19},{"g":"tf","s":"fit","x":530.3,"y":28},{"g":"tf","s":"fit","x":530,"y":39},{"g":"tf","s":"fit","x":529.8,"y":45},{"g":"tf","s":"fit","x":529.6,"y":47},{"g":"tf","s":"fit","x":529.4,"y":45.5},{"g":"tf","s":"fit","x":529.1,"y":39},{"g":"tf","s":"fit","x":528.8,"y":29},{"g":"tf","s":"fit","x":528.5,"y":19},{"g":"tf","s":"fit","x":528.2,"y":13},{"g":"tf","s":"fit","x":527.9,"y":11},{"g":"tf","s":"fit","x":527.5,"y":10.3},
      {"g":"tc1","s":"comp","x":534.5,"y":10.8},{"g":"tc1","s":"comp","x":533.8,"y":12},{"g":"tc1","s":"comp","x":533.2,"y":14},{"g":"tc1","s":"comp","x":532.6,"y":16.5},{"g":"tc1","s":"comp","x":532,"y":18.3},{"g":"tc1","s":"comp","x":531.7,"y":18.7},{"g":"tc1","s":"comp","x":531.3,"y":18.2},{"g":"tc1","s":"comp","x":530.8,"y":16.5},{"g":"tc1","s":"comp","x":530.3,"y":14},{"g":"tc1","s":"comp","x":529.8,"y":12},{"g":"tc1","s":"comp","x":529.2,"y":10.6},{"g":"tc1","s":"comp","x":528.5,"y":10},
      {"g":"tb","s":"comp","x":536,"y":11},{"g":"tb","s":"comp","x":524,"y":9}
    ],
    "tg": [
      {"s":"T-300","t":30,"y":100},{"s":"T-300","t":52.7,"y":99.1},{"s":"T-300","t":71.6,"y":98.6},{"s":"T-300","t":90,"y":98.2},{"s":"T-300","t":100,"y":98.1},{"s":"T-300","t":119,"y":98},{"s":"T-300","t":147,"y":98.2},{"s":"T-300","t":175,"y":98.3},{"s":"T-300","t":204,"y":98.4},{"s":"T-300","t":240,"y":98.45},{"s":"T-300","t":280,"y":98.5},{"s":"T-300","t":330,"y":98.5},{"s":"T-300","t":374,"y":98.5},{"s":"T-300","t":430,"y":98.45},{"s":"T-300","t":488,"y":98.5},{"s":"T-300","t":550,"y":98.5},{"s":"T-300","t":620,"y":98.55},{"s":"T-300","t":700,"y":98.55},{"s":"T-300","t":800,"y":98.5},
      {"s":"CAT-300","t":30,"y":99.9},{"s":"CAT-300","t":43,"y":99.3},{"s":"CAT-300","t":62,"y":98.8},{"s":"CAT-300","t":90,"y":98.1},{"s":"CAT-300","t":119,"y":97.75},{"s":"CAT-300","t":147,"y":97.5},{"s":"CAT-300","t":185,"y":97.4},{"s":"CAT-300","t":242,"y":97.4},{"s":"CAT-300","t":299,"y":97.3},{"s":"CAT-300","t":355,"y":97.15},{"s":"CAT-300","t":393,"y":97},{"s":"CAT-300","t":422,"y":97.05},{"s":"CAT-300","t":446,"y":97.2},{"s":"CAT-300","t":459,"y":97.25},{"s":"CAT-300","t":469,"y":97},{"s":"CAT-300","t":478,"y":96.3},{"s":"CAT-300","t":485,"y":95.5},{"s":"CAT-300","t":492,"y":94.9},{"s":"CAT-300","t":500,"y":94.4},{"s":"CAT-300","t":507,"y":94.1},{"s":"CAT-300","t":526,"y":93.7},{"s":"CAT-300","t":554,"y":93.4},{"s":"CAT-300","t":601,"y":93.25},{"s":"CAT-300","t":677,"y":93.15},{"s":"CAT-300","t":800,"y":93.1}
    ]
  },
  "concat": [
    {"width": 78, "height": 45, "data": {"values": []}, "mark": "point"},
    {"width": 161, "height": 1, "data": {"values": []}, "mark": "point"},
    {"width": 200, "height": 1, "data": {"values": []}, "mark": "point"},
    {"width": 150, "height": 1, "data": {"values": []}, "mark": "point"},
    {"width": 1, "height": 1, "data": {"values": []}, "mark": "point"},

    {"width": 1, "height": 28, "data": {"values": []}, "mark": "point"},
    {"width": 1, "height": 1, "data": {"values": []}, "mark": "point"},
    {"width": 1, "height": 1, "data": {"values": []}, "mark": "point"},
    {"width": 1, "height": 1, "data": {"values": []}, "mark": "point"},
    {
      "width": 146, "height": 28,
      "layer": [
        {"data": {"values": [{"t": "page rule"}]},
         "mark": {"type": "rule", "color": "#c6c6c6", "strokeWidth": 2.4},
         "encoding": {
           "x": {"datum": -3.623, "type": "quantitative", "scale": {"domain": [0, 1]}, "axis": null},
           "x2": {"datum": 1},
           "y": {"datum": 0, "type": "quantitative", "scale": {"domain": [0, 1]}, "axis": null}}},
        {"data": {"values": [{"t": "-VCH"}]},
         "mark": {"type": "text", "align": "right", "baseline": "alphabetic", "font": "Liberation Sans", "fontSize": 14.5, "color": "#111"},
         "encoding": {"x": {"datum": 1, "type": "quantitative"}, "y": {"datum": 0.46, "type": "quantitative"}, "text": {"field": "t"}}},
        {"data": {"values": [{"t": "ILEY"}]},
         "mark": {"type": "text", "align": "right", "baseline": "alphabetic", "font": "Liberation Serif", "fontSize": 15, "dx": -35.5, "color": "#111"},
         "encoding": {"x": {"datum": 1, "type": "quantitative"}, "y": {"datum": 0.46, "type": "quantitative"}, "text": {"field": "t"}}},
        {"data": {"values": [{"t": "W"}]},
         "mark": {"type": "text", "align": "right", "baseline": "alphabetic", "font": "Liberation Serif", "fontSize": 18, "dx": -69.6, "color": "#111"},
         "encoding": {"x": {"datum": 1, "type": "quantitative"}, "y": {"datum": 0.46, "type": "quantitative"}, "text": {"field": "t"}}}
      ]
    },

    {"width": 1, "height": 356, "data": {"values": []}, "mark": "point"},
    {"width": 1, "height": 1, "data": {"values": []}, "mark": "point"},
    {"width": 1, "height": 1, "data": {"values": []}, "mark": "point"},
    {"width": 1, "height": 1, "data": {"values": []}, "mark": "point"},
    {"width": 1, "height": 1, "data": {"values": []}, "mark": "point"},

    {"width": 1, "height": 99, "data": {"values": []}, "mark": "point"},
    {"width": 1, "height": 1, "data": {"values": []}, "mark": "point"},
    {"width": 1, "height": 1, "data": {"values": []}, "mark": "point"},
    {
      "width": 124, "height": 99,
      "view": {"stroke": "#000", "strokeWidth": 1.3},
      "layer": [
        {"data": {"name": "xrd"}, "mark": {"type": "line", "strokeWidth": 1.1},
         "encoding": {
           "x": {"field": "x", "type": "quantitative", "scale": {"domain": [10, 80], "nice": false, "zero": false}, "axis": {"values": [20, 40, 60, 80], "tickCount": 30, "format": "d", "labelOverlap": false, "title": "2 Theta (degree)"}},
           "y": {"field": "y", "type": "quantitative", "scale": {"domain": [0, 100], "nice": false}, "axis": {"labels": false, "ticks": false, "title": "Intensity (a.u.)", "titlePadding": 4}},
           "color": {"field": "s", "type": "nominal", "legend": null, "scale": {"domain": ["CAT-200","CAT-300","CAT-400","CAT-500","PDF","T-300","env","fit","comp","base","num","blk"], "range": ["#1e1e1e","#2323f2","#22dd22","#ff2eff","#9a33ee","#e23c3c","#2e2e2e","#2b2bd4","#2f9b9b","#d03cd0","#505050","#000000"]}}}},
        {"data": {"values": [{"t":"CAT-200","s":"CAT-200","x":78.1,"y":72.1},{"t":"CAT-300","s":"CAT-300","x":78.1,"y":57},{"t":"CAT-400","s":"CAT-400","x":78.1,"y":42},{"t":"CAT-500","s":"CAT-500","x":78.1,"y":26.2},{"t":"PDF # 21-1272","s":"PDF","x":78.1,"y":14.1}]},
         "mark": {"type": "text", "align": "right", "baseline": "middle", "fontSize": 6.5, "fontWeight": "bold"},
         "encoding": {"x": {"field": "x", "type": "quantitative"}, "y": {"field": "y", "type": "quantitative"}, "text": {"field": "t"},
           "color": {"field": "s", "type": "nominal", "legend": null, "scale": {"domain": ["CAT-200","CAT-300","CAT-400","CAT-500","PDF","T-300","env","fit","comp","base","num","blk"], "range": ["#1e1e1e","#2323f2","#22dd22","#ff2eff","#9a33ee","#e23c3c","#2e2e2e","#2b2bd4","#2f9b9b","#d03cd0","#505050","#000000"]}}}},
        {"data": {"values": [{"t": "(a)", "x": 12.2, "y": 91}]},
         "mark": {"type": "text", "align": "left", "baseline": "middle", "fontSize": 11, "fontWeight": "bold", "color": "#111"},
         "encoding": {"x": {"field": "x", "type": "quantitative"}, "y": {"field": "y", "type": "quantitative"}, "text": {"field": "t"}}}
      ]
    },
    {
      "width": 124, "height": 99,
      "view": {"stroke": "#000", "strokeWidth": 1.3},
      "layer": [
        {"data": {"name": "bet"}, "mark": {"type": "line", "strokeWidth": 0.9},
         "encoding": {
           "x": {"field": "p", "type": "quantitative", "scale": {"domain": [-0.08, 1.1], "nice": false, "zero": false}, "axis": {"values": [0, 0.2, 0.4, 0.6, 0.8, 1.0], "tickCount": 30, "format": ".1f", "labelOverlap": false, "title": "Relative pressure, P/P₀"}},
           "y": {"field": "v", "type": "quantitative", "scale": {"domain": [0, 120], "nice": false}, "axis": {"values": [0, 20, 40, 60, 80, 100, 120], "tickCount": 30, "format": "d", "labelOverlap": false, "title": "Volume@STP (cc/g)", "titlePadding": 3}},
           "detail": {"field": "b"},
           "color": {"field": "s", "type": "nominal", "legend": null, "scale": {"domain": ["CAT-200","CAT-300","CAT-400","CAT-500","PDF","T-300","env","fit","comp","base","num","blk"], "range": ["#1e1e1e","#2323f2","#22dd22","#ff2eff","#9a33ee","#e23c3c","#2e2e2e","#2b2bd4","#2f9b9b","#d03cd0","#505050","#000000"]}}}},
        {"data": {"name": "bet"}, "mark": {"type": "point", "filled": true, "size": 7, "opacity": 1},
         "encoding": {"x": {"field": "p", "type": "quantitative"}, "y": {"field": "v", "type": "quantitative"},
           "shape": {"field": "s", "type": "nominal", "legend": null, "scale": {"domain": ["CAT-200","CAT-300","CAT-400","CAT-500"], "range": ["square","circle","triangle-up","triangle-down"]}},
           "color": {"field": "s", "type": "nominal", "legend": null, "scale": {"domain": ["CAT-200","CAT-300","CAT-400","CAT-500","PDF","T-300","env","fit","comp","base","num","blk"], "range": ["#1e1e1e","#2323f2","#22dd22","#ff2eff","#9a33ee","#e23c3c","#2e2e2e","#2b2bd4","#2f9b9b","#d03cd0","#505050","#000000"]}}}},
        {"data": {"values": [{"s":"CAT-200","x1":0.12,"x2":0.245,"xm":0.18,"xt":0.26,"y":87.8},{"s":"CAT-300","x1":0.12,"x2":0.245,"xm":0.18,"xt":0.26,"y":77.7},{"s":"CAT-400","x1":0.12,"x2":0.245,"xm":0.18,"xt":0.26,"y":68.5},{"s":"CAT-500","x1":0.12,"x2":0.245,"xm":0.18,"xt":0.26,"y":58.4}]},
         "layer": [
           {"mark": {"type": "rule", "strokeWidth": 0.9},
            "encoding": {"x": {"field": "x1", "type": "quantitative"}, "x2": {"field": "x2"}, "y": {"field": "y", "type": "quantitative"},
              "color": {"field": "s", "type": "nominal", "legend": null, "scale": {"domain": ["CAT-200","CAT-300","CAT-400","CAT-500","PDF","T-300","env","fit","comp","base","num","blk"], "range": ["#1e1e1e","#2323f2","#22dd22","#ff2eff","#9a33ee","#e23c3c","#2e2e2e","#2b2bd4","#2f9b9b","#d03cd0","#505050","#000000"]}}}},
           {"mark": {"type": "point", "filled": true, "size": 9, "opacity": 1},
            "encoding": {"x": {"field": "xm", "type": "quantitative"}, "y": {"field": "y", "type": "quantitative"},
              "shape": {"field": "s", "type": "nominal", "legend": null, "scale": {"domain": ["CAT-200","CAT-300","CAT-400","CAT-500"], "range": ["square","circle","triangle-up","triangle-down"]}},
              "color": {"field": "s", "type": "nominal", "legend": null, "scale": {"domain": ["CAT-200","CAT-300","CAT-400","CAT-500","PDF","T-300","env","fit","comp","base","num","blk"], "range": ["#1e1e1e","#2323f2","#22dd22","#ff2eff","#9a33ee","#e23c3c","#2e2e2e","#2b2bd4","#2f9b9b","#d03cd0","#505050","#000000"]}}}},
           {"mark": {"type": "text", "align": "left", "baseline": "middle", "fontSize": 6.5, "fontWeight": "bold"},
            "encoding": {"x": {"field": "xt", "type": "quantitative"}, "y": {"field": "y", "type": "quantitative"}, "text": {"field": "s"},
              "color": {"field": "s", "type": "nominal", "legend": null, "scale": {"domain": ["CAT-200","CAT-300","CAT-400","CAT-500","PDF","T-300","env","fit","comp","base","num","blk"], "range": ["#1e1e1e","#2323f2","#22dd22","#ff2eff","#9a33ee","#e23c3c","#2e2e2e","#2b2bd4","#2f9b9b","#d03cd0","#505050","#000000"]}}}}
         ]},
        {"data": {"values": [{"t": "(b)", "x": -0.01, "y": 108}]},
         "mark": {"type": "text", "align": "left", "baseline": "middle", "fontSize": 11, "fontWeight": "bold", "color": "#111"},
         "encoding": {"x": {"field": "x", "type": "quantitative"}, "y": {"field": "y", "type": "quantitative"}, "text": {"field": "t"}}}
      ]
    },

    {"width": 1, "height": 21, "data": {"values": []}, "mark": "point"},
    {"width": 1, "height": 1, "data": {"values": []}, "mark": "point"},
    {"width": 1, "height": 1, "data": {"values": []}, "mark": "point"},
    {"width": 1, "height": 1, "data": {"values": []}, "mark": "point"},
    {"width": 1, "height": 1, "data": {"values": []}, "mark": "point"},

    {"width": 1, "height": 103, "data": {"values": []}, "mark": "point"},
    {"width": 1, "height": 1, "data": {"values": []}, "mark": "point"},
    {"width": 1, "height": 1, "data": {"values": []}, "mark": "point"},
    {
      "width": 125, "height": 103,
      "view": {"stroke": "#000", "strokeWidth": 1.3},
      "layer": [
        {"data": {"name": "pore"}, "mark": {"type": "line", "strokeWidth": 0.9},
         "encoding": {
           "x": {"field": "d", "type": "quantitative", "scale": {"domain": [0, 30], "nice": false}, "axis": {"values": [0, 5, 10, 15, 20, 25, 30], "tickCount": 30, "format": "d", "labelOverlap": false, "title": "Pore diameter (nm)"}},
           "y": {"field": "v", "type": "quantitative", "scale": {"domain": [-0.2, 1.8], "nice": false, "zero": false}, "axis": {"values": [-0.2, 0, 0.2, 0.4, 0.6, 0.8, 1.0, 1.2, 1.4, 1.6, 1.8], "tickCount": 30, "format": ".1f", "labelOverlap": false, "labelFontSize": 6, "title": "dV/dD pore volume (10⁻² cm³/g)", "titleFontSize": 7, "titlePadding": 2}},
           "color": {"field": "s", "type": "nominal", "legend": null, "scale": {"domain": ["CAT-200","CAT-300","CAT-400","CAT-500","PDF","T-300","env","fit","comp","base","num","blk"], "range": ["#1e1e1e","#2323f2","#22dd22","#ff2eff","#9a33ee","#e23c3c","#2e2e2e","#2b2bd4","#2f9b9b","#d03cd0","#505050","#000000"]}}}},
        {"data": {"name": "pore"}, "mark": {"type": "point", "filled": true, "size": 8, "opacity": 1},
         "encoding": {"x": {"field": "d", "type": "quantitative"}, "y": {"field": "v", "type": "quantitative"},
           "shape": {"field": "s", "type": "nominal", "legend": null, "scale": {"domain": ["CAT-200","CAT-300","CAT-400","CAT-500"], "range": ["square","circle","triangle-up","triangle-down"]}},
           "color": {"field": "s", "type": "nominal", "legend": null, "scale": {"domain": ["CAT-200","CAT-300","CAT-400","CAT-500","PDF","T-300","env","fit","comp","base","num","blk"], "range": ["#1e1e1e","#2323f2","#22dd22","#ff2eff","#9a33ee","#e23c3c","#2e2e2e","#2b2bd4","#2f9b9b","#d03cd0","#505050","#000000"]}}}},
        {"data": {"values": [{"s":"CAT-200","x1":15.1,"x2":18.3,"xm":16.7,"xt":18.8,"y":1.29},{"s":"CAT-300","x1":15.1,"x2":18.3,"xm":16.7,"xt":18.8,"y":1.13},{"s":"CAT-400","x1":15.1,"x2":18.3,"xm":16.7,"xt":18.8,"y":0.98},{"s":"CAT-500","x1":15.1,"x2":18.3,"xm":16.7,"xt":18.8,"y":0.81}]},
         "layer": [
           {"mark": {"type": "rule", "strokeWidth": 0.9},
            "encoding": {"x": {"field": "x1", "type": "quantitative"}, "x2": {"field": "x2"}, "y": {"field": "y", "type": "quantitative"},
              "color": {"field": "s", "type": "nominal", "legend": null, "scale": {"domain": ["CAT-200","CAT-300","CAT-400","CAT-500","PDF","T-300","env","fit","comp","base","num","blk"], "range": ["#1e1e1e","#2323f2","#22dd22","#ff2eff","#9a33ee","#e23c3c","#2e2e2e","#2b2bd4","#2f9b9b","#d03cd0","#505050","#000000"]}}}},
           {"mark": {"type": "point", "filled": true, "size": 9, "opacity": 1},
            "encoding": {"x": {"field": "xm", "type": "quantitative"}, "y": {"field": "y", "type": "quantitative"},
              "shape": {"field": "s", "type": "nominal", "legend": null, "scale": {"domain": ["CAT-200","CAT-300","CAT-400","CAT-500"], "range": ["square","circle","triangle-up","triangle-down"]}},
              "color": {"field": "s", "type": "nominal", "legend": null, "scale": {"domain": ["CAT-200","CAT-300","CAT-400","CAT-500","PDF","T-300","env","fit","comp","base","num","blk"], "range": ["#1e1e1e","#2323f2","#22dd22","#ff2eff","#9a33ee","#e23c3c","#2e2e2e","#2b2bd4","#2f9b9b","#d03cd0","#505050","#000000"]}}}},
           {"mark": {"type": "text", "align": "left", "baseline": "middle", "fontSize": 6.5, "fontWeight": "bold"},
            "encoding": {"x": {"field": "xt", "type": "quantitative"}, "y": {"field": "y", "type": "quantitative"}, "text": {"field": "s"},
              "color": {"field": "s", "type": "nominal", "legend": null, "scale": {"domain": ["CAT-200","CAT-300","CAT-400","CAT-500","PDF","T-300","env","fit","comp","base","num","blk"], "range": ["#1e1e1e","#2323f2","#22dd22","#ff2eff","#9a33ee","#e23c3c","#2e2e2e","#2b2bd4","#2f9b9b","#d03cd0","#505050","#000000"]}}}}
         ]},
        {"data": {"values": [{"t": "(c)", "x": 1.9, "y": 1.6}]},
         "mark": {"type": "text", "align": "left", "baseline": "middle", "fontSize": 11, "fontWeight": "bold", "color": "#111"},
         "encoding": {"x": {"field": "x", "type": "quantitative"}, "y": {"field": "y", "type": "quantitative"}, "text": {"field": "t"}}}
      ]
    },
    {
      "width": 124, "height": 103,
      "view": {"stroke": "#000", "strokeWidth": 1.3},
      "layer": [
        {"data": {"name": "abs"}, "mark": {"type": "line", "strokeWidth": 1},
         "encoding": {
           "x": {"field": "w", "type": "quantitative", "scale": {"domain": [300, 800], "nice": false, "zero": false}, "axis": {"values": [300, 400, 500, 600, 700, 800], "tickCount": 30, "format": "d", "labelOverlap": false, "title": "Wavelength (nm)"}},
           "y": {"field": "a", "type": "quantitative", "scale": {"domain": [0, 1.5], "nice": false}, "axis": {"values": [0, 0.3, 0.6, 0.9, 1.2, 1.5], "tickCount": 30, "format": ".1f", "labelOverlap": false, "title": "Absorbance (a.u.)", "titlePadding": 3}},
           "color": {"field": "s", "type": "nominal", "legend": null, "scale": {"domain": ["CAT-200","CAT-300","CAT-400","CAT-500","PDF","T-300","env","fit","comp","base","num","blk"], "range": ["#444444","#2323f2","#22dd22","#ff2eff","#9a33ee","#e23c3c","#2e2e2e","#2b2bd4","#2f9b9b","#d03cd0","#505050","#000000"]}}}},
        {"data": {"values": [{"s":"CAT-200","x1":596,"x2":655,"xt":659,"y":1.16},{"s":"CAT-300","x1":596,"x2":655,"xt":659,"y":1.03},{"s":"CAT-400","x1":596,"x2":655,"xt":659,"y":0.91},{"s":"CAT-500","x1":596,"x2":655,"xt":659,"y":0.79}]},
         "layer": [
           {"mark": {"type": "rule", "strokeWidth": 1},
            "encoding": {"x": {"field": "x1", "type": "quantitative"}, "x2": {"field": "x2"}, "y": {"field": "y", "type": "quantitative"},
              "color": {"field": "s", "type": "nominal", "legend": null, "scale": {"domain": ["CAT-200","CAT-300","CAT-400","CAT-500","PDF","T-300","env","fit","comp","base","num","blk"], "range": ["#444444","#2323f2","#22dd22","#ff2eff","#9a33ee","#e23c3c","#2e2e2e","#2b2bd4","#2f9b9b","#d03cd0","#505050","#000000"]}}}},
           {"mark": {"type": "text", "align": "left", "baseline": "middle", "fontSize": 6.5, "fontWeight": "bold"},
            "encoding": {"x": {"field": "xt", "type": "quantitative"}, "y": {"field": "y", "type": "quantitative"}, "text": {"field": "s"},
              "color": {"field": "s", "type": "nominal", "legend": null, "scale": {"domain": ["CAT-200","CAT-300","CAT-400","CAT-500","PDF","T-300","env","fit","comp","base","num","blk"], "range": ["#444444","#2323f2","#22dd22","#ff2eff","#9a33ee","#e23c3c","#2e2e2e","#2b2bd4","#2f9b9b","#d03cd0","#505050","#000000"]}}}}
         ]},
        {"data": {"values": [{"t": "(d)", "x": 322, "y": 1.36}]},
         "mark": {"type": "text", "align": "left", "baseline": "middle", "fontSize": 11, "fontWeight": "bold", "color": "#111"},
         "encoding": {"x": {"field": "x", "type": "quantitative"}, "y": {"field": "y", "type": "quantitative"}, "text": {"field": "t"}}}
      ]
    },

    {"width": 1, "height": 44, "data": {"values": []}, "mark": "point"},
    {"width": 1, "height": 1, "data": {"values": []}, "mark": "point"},
    {"width": 1, "height": 1, "data": {"values": []}, "mark": "point"},
    {"width": 1, "height": 1, "data": {"values": []}, "mark": "point"},
    {"width": 1, "height": 1, "data": {"values": []}, "mark": "point"},

    {"width": 1, "height": 105, "data": {"values": []}, "mark": "point"},
    {
      "width": 143, "height": 105,
      "view": {"stroke": "#000", "strokeWidth": 1.3},
      "layer": [
        {"data": {"name": "c1s"}, "mark": {"type": "line", "strokeWidth": 1.1},
         "encoding": {
           "x": {"field": "x", "type": "quantitative", "scale": {"domain": [276, 294], "reverse": true, "nice": false, "zero": false}, "axis": {"values": [294, 291, 288, 285, 282, 279, 276], "tickCount": 30, "format": "d", "labelOverlap": false, "title": "Binding energy (eV)"}},
           "y": {"field": "y", "type": "quantitative", "scale": {"domain": [0, 105], "nice": false}, "axis": {"labels": false, "ticks": false, "title": "Intensity (a.u.)", "titlePadding": 7}},
           "detail": {"field": "g"},
           "color": {"field": "s", "type": "nominal", "legend": null, "scale": {"domain": ["CAT-200","CAT-300","CAT-400","CAT-500","PDF","T-300","env","fit","comp","base","num","blk"], "range": ["#1e1e1e","#3535d0","#22dd22","#ff2eff","#9a33ee","#e04848","#2e2e2e","#2b2bd4","#2f9b9b","#d03cd0","#505050","#000000"]}}}},
        {"data": {"values": [{"t":"284.6","x":283.4,"y":91.3},{"t":"288.4","x":287.7,"y":64.7},{"t":"282.0","x":281.4,"y":62.3}]},
         "mark": {"type": "text", "align": "center", "baseline": "middle", "fontSize": 6.5, "color": "#555"},
         "encoding": {"x": {"field": "x", "type": "quantitative"}, "y": {"field": "y", "type": "quantitative"}, "text": {"field": "t"}}},
        {"data": {"values": [{"t":"CAT-300","s":"CAT-300","x":291.8,"y":64},{"t":"T-300","s":"T-300","x":292.4,"y":14.7}]},
         "mark": {"type": "text", "align": "center", "baseline": "middle", "fontSize": 7, "fontWeight": "bold"},
         "encoding": {"x": {"field": "x", "type": "quantitative"}, "y": {"field": "y", "type": "quantitative"}, "text": {"field": "t"},
           "color": {"field": "s", "type": "nominal", "legend": null, "scale": {"domain": ["CAT-200","CAT-300","CAT-400","CAT-500","PDF","T-300","env","fit","comp","base","num","blk"], "range": ["#1e1e1e","#3535d0","#22dd22","#ff2eff","#9a33ee","#e04848","#2e2e2e","#2b2bd4","#2f9b9b","#d03cd0","#505050","#000000"]}}}},
        {"data": {"values": [{"t":"C 1","x":278.0,"y":90.7}]},
         "mark": {"type": "text", "align": "right", "baseline": "middle", "fontSize": 7, "fontWeight": "bold", "color": "#111"},
         "encoding": {"x": {"field": "x", "type": "quantitative"}, "y": {"field": "y", "type": "quantitative"}, "text": {"field": "t"}}},
        {"data": {"values": [{"t":"s","x":278.0,"y":90.7}]},
         "mark": {"type": "text", "align": "left", "baseline": "middle", "fontSize": 7, "fontWeight": "bold", "fontStyle": "italic", "color": "#111"},
         "encoding": {"x": {"field": "x", "type": "quantitative"}, "y": {"field": "y", "type": "quantitative"}, "text": {"field": "t"}}},
        {"data": {"values": [{"t": "(a)", "x": 293.6, "y": 95}]},
         "mark": {"type": "text", "align": "left", "baseline": "middle", "fontSize": 11, "fontWeight": "bold", "color": "#111"},
         "encoding": {"x": {"field": "x", "type": "quantitative"}, "y": {"field": "y", "type": "quantitative"}, "text": {"field": "t"}}}
      ]
    },
    {
      "width": 139, "height": 105,
      "view": {"stroke": "#000", "strokeWidth": 1.3},
      "layer": [
        {"data": {"name": "ti"}, "mark": {"type": "line", "strokeWidth": 1.1},
         "encoding": {
           "x": {"field": "x", "type": "quantitative", "scale": {"domain": [454, 468], "reverse": true, "nice": false, "zero": false}, "axis": {"values": [468, 466, 464, 462, 460, 458, 456, 454], "tickCount": 30, "format": "d", "labelOverlap": false, "title": "Binding energy (eV)"}},
           "y": {"field": "y", "type": "quantitative", "scale": {"domain": [0, 105], "nice": false}, "axis": {"labels": false, "ticks": false, "title": "Intensity (a.u.)", "titlePadding": 3}},
           "color": {"field": "s", "type": "nominal", "legend": null, "scale": {"domain": ["CAT-200","CAT-300","CAT-400","CAT-500","PDF","T-300","env","fit","comp","base","num","blk"], "range": ["#1e1e1e","#3434e6","#22dd22","#ff2eff","#9a33ee","#e03c3c","#2e2e2e","#2b2bd4","#2f9b9b","#d03cd0","#505050","#000000"]}}}},
        {"data": {"values": [{"t":"458.5","x":459.9,"y":89},{"t":"464.3","x":462.1,"y":50}]},
         "mark": {"type": "text", "align": "center", "baseline": "middle", "fontSize": 6.5, "color": "#555"},
         "encoding": {"x": {"field": "x", "type": "quantitative"}, "y": {"field": "y", "type": "quantitative"}, "text": {"field": "t"}}},
        {"data": {"values": [{"t":"CAT-300","s":"CAT-300","x":465.7,"y":53.3},{"t":"T-300","s":"T-300","x":466.7,"y":20.7}]},
         "mark": {"type": "text", "align": "center", "baseline": "middle", "fontSize": 7, "fontWeight": "bold"},
         "encoding": {"x": {"field": "x", "type": "quantitative"}, "y": {"field": "y", "type": "quantitative"}, "text": {"field": "t"},
           "color": {"field": "s", "type": "nominal", "legend": null, "scale": {"domain": ["CAT-200","CAT-300","CAT-400","CAT-500","PDF","T-300","env","fit","comp","base","num","blk"], "range": ["#1e1e1e","#3535d0","#22dd22","#ff2eff","#9a33ee","#e04848","#2e2e2e","#2b2bd4","#2f9b9b","#d03cd0","#505050","#000000"]}}}},
        {"data": {"values": [{"t":"Ti 2","x":455.5,"y":89}]},
         "mark": {"type": "text", "align": "right", "baseline": "middle", "fontSize": 7, "fontWeight": "bold", "color": "#111"},
         "encoding": {"x": {"field": "x", "type": "quantitative"}, "y": {"field": "y", "type": "quantitative"}, "text": {"field": "t"}}},
        {"data": {"values": [{"t":"p","x":455.5,"y":89}]},
         "mark": {"type": "text", "align": "left", "baseline": "middle", "fontSize": 7, "fontWeight": "bold", "fontStyle": "italic", "color": "#111"},
         "encoding": {"x": {"field": "x", "type": "quantitative"}, "y": {"field": "y", "type": "quantitative"}, "text": {"field": "t"}}},
        {"data": {"values": [{"t": "(b)", "x": 467.9, "y": 95}]},
         "mark": {"type": "text", "align": "left", "baseline": "middle", "fontSize": 11, "fontWeight": "bold", "color": "#111"},
         "encoding": {"x": {"field": "x", "type": "quantitative"}, "y": {"field": "y", "type": "quantitative"}, "text": {"field": "t"}}}
      ]
    },
    {"width": 1, "height": 1, "data": {"values": []}, "mark": "point"},
    {"width": 1, "height": 1, "data": {"values": []}, "mark": "point"},

    {"width": 1, "height": 25, "data": {"values": []}, "mark": "point"},
    {"width": 1, "height": 1, "data": {"values": []}, "mark": "point"},
    {"width": 1, "height": 1, "data": {"values": []}, "mark": "point"},
    {"width": 1, "height": 1, "data": {"values": []}, "mark": "point"},
    {"width": 1, "height": 1, "data": {"values": []}, "mark": "point"},

    {"width": 1, "height": 107, "data": {"values": []}, "mark": "point"},
    {
      "width": 143, "height": 107,
      "view": {"stroke": "#000", "strokeWidth": 1.3},
      "layer": [
        {"data": {"name": "o1s"}, "mark": {"type": "line", "strokeWidth": 1.1},
         "encoding": {
           "x": {"field": "x", "type": "quantitative", "scale": {"domain": [524, 536], "reverse": true, "nice": false, "zero": false}, "axis": {"values": [536, 534, 532, 530, 528, 526, 524], "tickCount": 30, "format": "d", "labelOverlap": false, "title": "Binding energy (eV)"}},
           "y": {"field": "y", "type": "quantitative", "scale": {"domain": [0, 107], "nice": false}, "axis": {"labels": false, "ticks": false, "title": "Intensity (a.u.)", "titlePadding": 7}},
           "detail": {"field": "g"},
           "color": {"field": "s", "type": "nominal", "legend": null, "scale": {"domain": ["CAT-200","CAT-300","CAT-400","CAT-500","PDF","T-300","env","fit","comp","base","num","blk"], "range": ["#1e1e1e","#3535d0","#22dd22","#ff2eff","#9a33ee","#e04848","#2e2e2e","#2b2bd4","#2f9b9b","#d03cd0","#505050","#000000"]}}}},
        {"data": {"values": [{"t":"529.8","x":529.1,"y":96},{"t":"531.7","x":532.0,"y":73.3},{"t":"527.9","x":527.3,"y":66.7}]},
         "mark": {"type": "text", "align": "center", "baseline": "middle", "fontSize": 6.5, "color": "#555"},
         "encoding": {"x": {"field": "x", "type": "quantitative"}, "y": {"field": "y", "type": "quantitative"}, "text": {"field": "t"}}},
        {"data": {"values": [{"t":"CAT-300","s":"CAT-300","x":534.65,"y":66},{"t":"T-300","s":"T-300","x":535,"y":18.3}]},
         "mark": {"type": "text", "align": "center", "baseline": "middle", "fontSize": 7, "fontWeight": "bold"},
         "encoding": {"x": {"field": "x", "type": "quantitative"}, "y": {"field": "y", "type": "quantitative"}, "text": {"field": "t"},
           "color": {"field": "s", "type": "nominal", "legend": null, "scale": {"domain": ["CAT-200","CAT-300","CAT-400","CAT-500","PDF","T-300","env","fit","comp","base","num","blk"], "range": ["#1e1e1e","#3535d0","#22dd22","#ff2eff","#9a33ee","#e04848","#2e2e2e","#2b2bd4","#2f9b9b","#d03cd0","#505050","#000000"]}}}},
        {"data": {"values": [{"t":"O 1","x":525.3,"y":96.7}]},
         "mark": {"type": "text", "align": "right", "baseline": "middle", "fontSize": 7, "fontWeight": "bold", "color": "#111"},
         "encoding": {"x": {"field": "x", "type": "quantitative"}, "y": {"field": "y", "type": "quantitative"}, "text": {"field": "t"}}},
        {"data": {"values": [{"t":"s","x":525.3,"y":96.7}]},
         "mark": {"type": "text", "align": "left", "baseline": "middle", "fontSize": 7, "fontWeight": "bold", "fontStyle": "italic", "color": "#111"},
         "encoding": {"x": {"field": "x", "type": "quantitative"}, "y": {"field": "y", "type": "quantitative"}, "text": {"field": "t"}}},
        {"data": {"values": [{"t": "(c)", "x": 535.7, "y": 97.3}]},
         "mark": {"type": "text", "align": "left", "baseline": "middle", "fontSize": 11, "fontWeight": "bold", "color": "#111"},
         "encoding": {"x": {"field": "x", "type": "quantitative"}, "y": {"field": "y", "type": "quantitative"}, "text": {"field": "t"}}}
      ]
    },
    {
      "width": 140, "height": 106,
      "view": {"stroke": "#000", "strokeWidth": 1.3},
      "layer": [
        {"data": {"name": "tg"}, "mark": {"type": "line", "strokeWidth": 1.1},
         "encoding": {
           "x": {"field": "t", "type": "quantitative", "scale": {"domain": [30, 800], "nice": false, "zero": false}, "axis": {"values": [100, 200, 300, 400, 500, 600, 700, 800], "tickCount": 30, "format": "d", "labelOverlap": false, "title": "Temperature (°C)"}},
           "y": {"field": "y", "type": "quantitative", "scale": {"domain": [90, 100.9], "nice": false, "zero": false}, "axis": {"values": [90, 92, 94, 96, 98, 100], "tickCount": 30, "format": "d", "labelOverlap": false, "labelFontSize": 5.5, "title": "TG %", "titlePadding": 2}},
           "color": {"field": "s", "type": "nominal", "legend": null, "scale": {"domain": ["CAT-200","CAT-300","CAT-400","CAT-500","PDF","T-300","env","fit","comp","base","num","blk"], "range": ["#1e1e1e","#3434d6","#22dd22","#ff2eff","#9a33ee","#e04848","#2e2e2e","#2b2bd4","#2f9b9b","#d03cd0","#505050","#000000"]}}}},
        {"data": {"values": [{"t":"TG","s":"blk","x":705,"y":99.6},{"t":"T-300","s":"T-300","x":711,"y":97.4},{"t":"CAT-300","s":"CAT-300","x":711,"y":92.56}]},
         "mark": {"type": "text", "align": "center", "baseline": "middle", "fontSize": 7, "fontWeight": "bold"},
         "encoding": {"x": {"field": "x", "type": "quantitative"}, "y": {"field": "y", "type": "quantitative"}, "text": {"field": "t"},
           "color": {"field": "s", "type": "nominal", "legend": null, "scale": {"domain": ["CAT-200","CAT-300","CAT-400","CAT-500","PDF","T-300","env","fit","comp","base","num","blk"], "range": ["#1e1e1e","#3535d0","#22dd22","#ff2eff","#9a33ee","#e04848","#2e2e2e","#2b2bd4","#2f9b9b","#d03cd0","#505050","#000000"]}}}},
        {"data": {"values": [{"t": "(d)", "x": 45, "y": 99.9}]},
         "mark": {"type": "text", "align": "left", "baseline": "middle", "fontSize": 11, "fontWeight": "bold", "color": "#111"},
         "encoding": {"x": {"field": "x", "type": "quantitative"}, "y": {"field": "y", "type": "quantitative"}, "text": {"field": "t"}}}
      ]
    },
    {"width": 1, "height": 1, "data": {"values": []}, "mark": "point"},
    {"width": 1, "height": 1, "data": {"values": []}, "mark": "point"},

    {"width": 1, "height": 64, "data": {"values": []}, "mark": "point"},
    {"width": 1, "height": 1, "data": {"values": []}, "mark": "point"},
    {"width": 1, "height": 1, "data": {"values": []}, "mark": "point"},
    {"width": 1, "height": 1, "data": {"values": []}, "mark": "point"},
    {
      "width": 146, "height": 64,
      "data": {"values": [{"t": "page rule"}]},
      "mark": {"type": "rule", "color": "#c6c6c6", "strokeWidth": 2.4},
      "encoding": {
        "x": {"datum": -3.623, "type": "quantitative", "scale": {"domain": [0, 1]}, "axis": null},
        "x2": {"datum": 1},
        "y": {"datum": 0, "type": "quantitative", "scale": {"domain": [0, 1]}, "axis": null}
      }
    }
  ]
}
